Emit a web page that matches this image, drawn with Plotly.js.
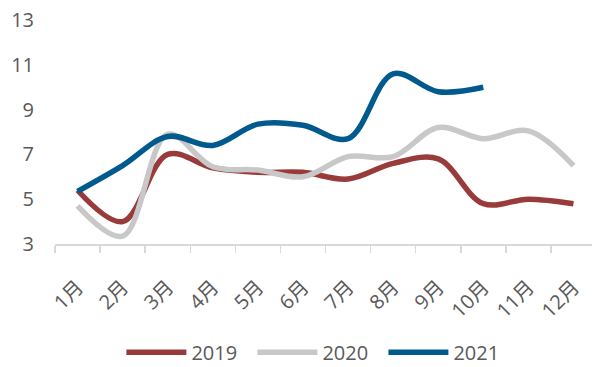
<!DOCTYPE html>
<html>
<head>
<meta charset="utf-8">
<script src="https://cdn.plot.ly/plotly-3.0.1.min.js"></script>
<style>
html,body{margin:0;padding:0;overflow:hidden;background:#fff;}
#chart{width:596px;height:367px;}
</style>
</head>
<body>
<div id="chart"></div>
<script>
const months = ['1月','2月','3月','4月','5月','6月','7月','8月','9月','10月','11月','12月'];
const y2019 = [5.4, 4.0, 7.0, 6.4, 6.2, 6.2, 5.9, 6.6, 6.8, 4.8, 5.0, 4.8];
const y2020 = [4.7, 3.35, 7.9, 6.45, 6.3, 6.0, 6.9, 6.9, 8.2, 7.7, 8.05, 6.5];
const y2021 = [5.35, 6.5, 7.8, 7.4, 8.35, 8.3, 7.7, 10.6, 9.8, 10.0];
const seriesNames = ['2019','2020','2021'];
const colors = ['#993B3B','#C8C8C8','#005A8E'];

const font = {family: '"Open Sans", "Noto Sans CJK SC", sans-serif', size: 20, color: '#595959'};
const data = [y2019, y2020, y2021].map((ys, i) => ({
  type: 'scatter',
  mode: 'lines',
  name: seriesNames[i],
  x: months.slice(0, ys.length),
  y: ys,
  line: {color: colors[i], width: 5.5, shape: 'spline', smoothing: 1},
  hoverinfo: 'skip'
}));

const layout = {
  width: 596,
  height: 367,
  margin: {l: 55, r: 0, t: 20, b: 123},
  paper_bgcolor: '#ffffff',
  plot_bgcolor: '#ffffff',
  font: font,
  showlegend: true,
  legend: {
    orientation: 'h',
    xref: 'container',
    yref: 'container',
    x: 0.5334, xanchor: 'center',
    y: 0.04, yanchor: 'middle',
    font: font,
    itemwidth: 60,
    entrywidth: 56,
    entrywidthmode: 'pixels',
    traceorder: 'normal'
  },
  xaxis: {
    type: 'category',
    categoryorder: 'array',
    categoryarray: months,
    range: [-0.5, 11.5],
    automargin: false,
    showline: true,
    linecolor: '#D9D9D9',
    linewidth: 1.5,
    ticks: 'outside',
    tickson: 'boundaries',
    ticklen: 7,
    tickcolor: '#D9D9D9',
    tickwidth: 1.5,
    tickangle: -45,
    ticklabelstandoff: 22,
    showgrid: false,
    zeroline: false,
    tickfont: font
  },
  yaxis: {
    range: [3, 13],
    tickvals: [3, 5, 7, 9, 11, 13],
    automargin: false,
    ticks: '',
    showline: false,
    showgrid: false,
    zeroline: false,
    ticklabelstandoff: 20,
    tickfont: font
  }
};

Plotly.newPlot('chart', data, layout, {staticPlot: true, displayModeBar: false});
</script>
</body>
</html>
